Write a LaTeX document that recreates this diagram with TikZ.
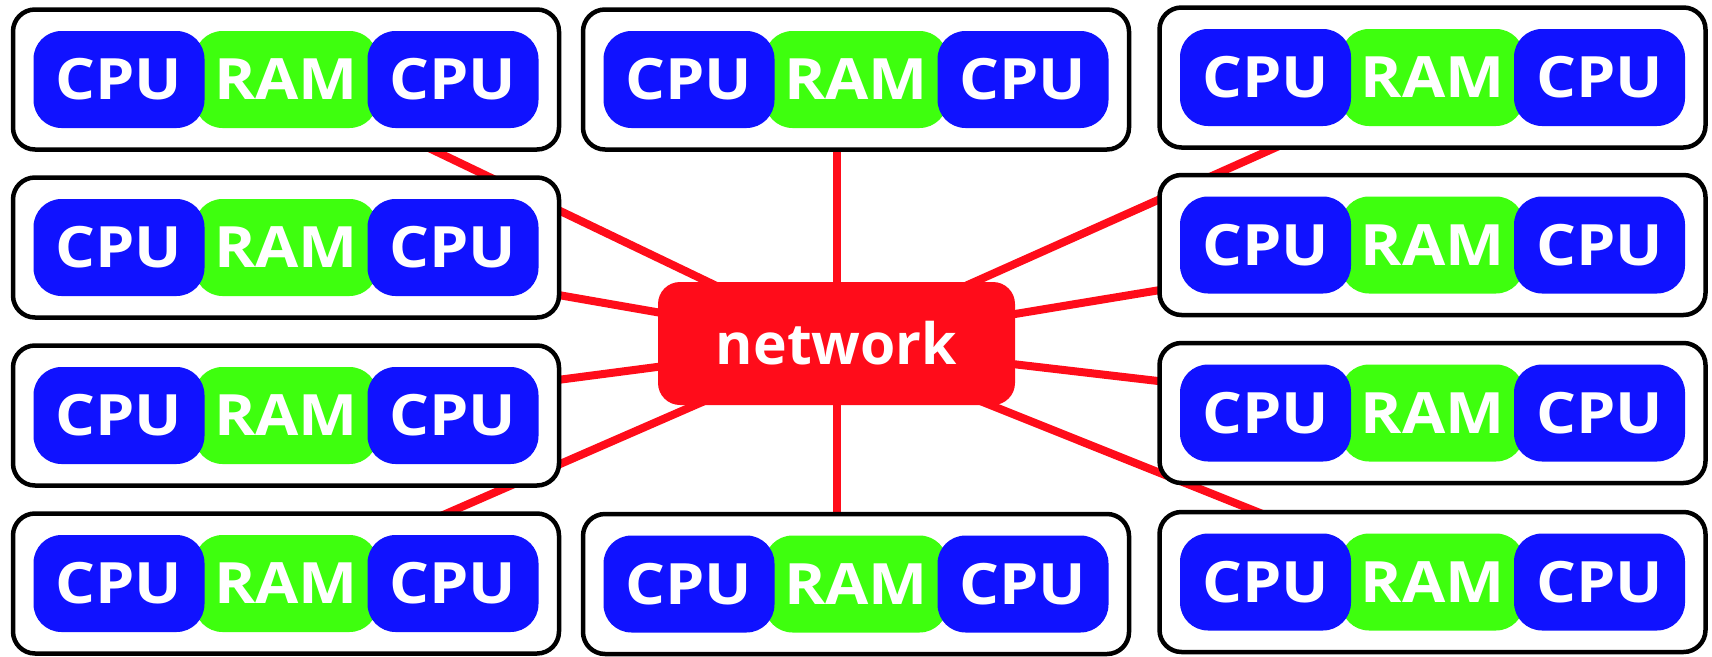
\documentclass[tikz,border=0pt]{standalone}
\usepackage{fontspec}
\setmainfont{Open Sans}
\newfontfamily\widefont[FakeStretch=1.1]{Open Sans}
\usetikzlibrary{backgrounds}
\definecolor{cpublue}{RGB}{16,18,255}
\definecolor{ramgreen}{RGB}{62,255,14}
\definecolor{netred}{RGB}{255,12,26}
\newcommand\mkmachine[3]{%
  \node[box] (#1) at (#2,#3) {};
  \node[ram] (#1r) at (#1.center) {RAM};
  \node[cpu] (#1a) at ([xshift=-167pt]#1.center) {CPU};
  \node[cpu] (#1b) at ([xshift=167pt]#1.center) {CPU};
}
\begin{document}
\begin{tikzpicture}[x=1pt,y=-1pt,
  box/.style={draw=black, line width=4.5pt, fill=white, rounded corners=22pt,
    minimum width=546pt, minimum height=140pt, inner sep=0pt, outer sep=0pt},
  pill/.style={text=white, rounded corners=28pt, minimum height=97pt,
    inner sep=0pt, outer sep=0pt, font=\widefont\fontsize{57}{60}\selectfont\bfseries},
  cpu/.style={pill, fill=cpublue, minimum width=171pt},
  ram/.style={pill, fill=ramgreen, minimum width=183pt},
  net/.style={pill, fill=netred, rounded corners=22pt, minimum width=357pt, minimum height=123pt,
    font=\fontsize{57}{60}\selectfont\bfseries},
  link/.style={draw=netred, line width=8pt}]
\useasboundingbox (0,0) rectangle (1712,656);
\mkmachine{L1}{286}{79.5}
\mkmachine{L2}{286}{247.5}
\mkmachine{L3}{286}{415.5}
\mkmachine{L4}{286}{583.5}
\mkmachine{T}{856}{79.5}
\mkmachine{B}{856}{584}
\mkmachine{R1}{1432.5}{77.5}
\mkmachine{R2}{1432.5}{245}
\mkmachine{R3}{1432.5}{413}
\mkmachine{R4}{1432.5}{582}
\node[net] (net) at (836.5,343.5) {network};
\begin{pgfonlayer}{background}
  \foreach \n in {L1,L2,L3,L4,R1,R2,R3,R4}
    \draw[link] (net.center) -- (\n.center);
  \draw[link] (net.center) -- (net.center |- T.center);
  \draw[link] (net.center) -- (net.center |- B.center);
\end{pgfonlayer}
\end{tikzpicture}
\end{document}
